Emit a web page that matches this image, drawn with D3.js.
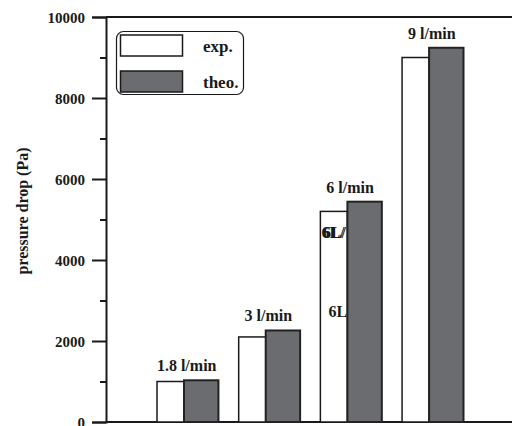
<!DOCTYPE html>
<html>
<head>
<meta charset="utf-8">
<script src="https://cdn.jsdelivr.net/npm/d3@7"></script>
<style>
  html, body { margin: 0; padding: 0; background: #fff; }
  svg { display: block; }
  svg text { font-family: "Liberation Serif", "DejaVu Serif", serif !important; font-weight: bold; fill: #1a1a1a; }
</style>
</head>
<body>
<svg id="chart" width="512" height="426"></svg>
<script>
const categories = ["1.8 l/min", "3 l/min", "6 l/min", "9 l/min"];
const expValues = [1000, 2100, 5200, 9000];
const theoValues = [1030, 2260, 5440, 9240];
const seriesNames = ["exp.", "theo."];
const majorTicks = [0, 2000, 4000, 6000, 8000, 10000];
const minorTicks = [1000, 3000, 5000, 7000, 9000];

const mLeft = 106, mTop = 17, mBottom = 422, mRight = 512;
const svg = d3.select("#chart");
const ink = "#1a1a1a";
const grey = "#6b6c6f";

const y = d3.scaleLinear().domain([0, 10000]).range([mBottom, mTop]);
const x = d3.scaleBand().domain(categories).range([157, 463.5]).paddingInner(0.248).paddingOuter(0);
const bw = x.bandwidth();
const expW = bw * 0.44;

// y axis
const yAxis = d3.axisLeft(y).tickValues(majorTicks).tickSize(14).tickPadding(7).tickFormat(d3.format("d"));
const gy = svg.append("g").attr("transform", `translate(${mLeft},0)`).call(yAxis);
gy.attr("font-family", null).attr("font-size", null);
gy.select(".domain").attr("stroke", ink).attr("stroke-width", 2);
gy.selectAll(".tick line").attr("stroke", ink).attr("stroke-width", 2);
gy.selectAll(".tick text").style("font-size", "15px").attr("fill", ink).attr("dy", "0.34em");
const yMinor = d3.axisLeft(y).tickValues(minorTicks).tickSize(6).tickFormat("");
const gm = svg.append("g").attr("transform", `translate(${mLeft},0)`).call(yMinor);
gm.select(".domain").remove();
gm.selectAll(".tick line").attr("stroke", ink).attr("stroke-width", 2);

// top and bottom frame lines
svg.append("line").attr("x1", mLeft).attr("x2", mRight).attr("y1", y(10000)).attr("y2", y(10000)).attr("stroke", ink).attr("stroke-width", 2);
svg.append("line").attr("x1", mLeft).attr("x2", mRight).attr("y1", y(0)).attr("y2", y(0)).attr("stroke", ink).attr("stroke-width", 2);

// y label
svg.append("text")
  .attr("transform", `translate(28,${(147+275)/2}) rotate(-90)`)
  .attr("text-anchor", "middle")
  .style("font-size", "16px")
  .text("pressure drop (Pa)");

// exp bars
svg.append("g").selectAll("rect").data(categories).join("rect")
  .attr("x", d => x(d))
  .attr("y", (d, i) => y(expValues[i]))
  .attr("width", expW)
  .attr("height", (d, i) => y(0) - y(expValues[i]))
  .attr("fill", "#fff").attr("stroke", ink).attr("stroke-width", 1.5);

// stray text inside the 6 l/min exp bar
const c6 = x(categories[2]);
svg.append("text").attr("x", c6 + 1).attr("y", 238).style("font-size", "16px").text("6L/");
svg.append("text").attr("x", c6 + 2.5).attr("y", 237.5).style("font-size", "16px").text("6L/");
svg.append("text").attr("x", c6 + 8).attr("y", 317).style("font-size", "16px").text("6L");

// theo bars
svg.append("g").selectAll("rect").data(categories).join("rect")
  .attr("x", d => x(d) + expW)
  .attr("y", (d, i) => y(theoValues[i]))
  .attr("width", bw - expW)
  .attr("height", (d, i) => y(0) - y(theoValues[i]))
  .attr("fill", grey).attr("stroke", "#222").attr("stroke-width", 2);

// bar group labels
svg.append("g").selectAll("text").data(categories).join("text")
  .attr("x", d => x(d) + bw / 2 - 1)
  .attr("y", (d, i) => y(theoValues[i]) - 9)
  .attr("text-anchor", "middle")
  .style("font-size", "16px")
  .text(d => d);

// legend
const lg = svg.append("g");
lg.append("rect").attr("x", 116.5).attr("y", 31.5).attr("width", 127).attr("height", 63).attr("rx", 7)
  .attr("fill", "#fff").attr("stroke", ink).attr("stroke-width", 1.2);
const swatchFill = ["#fff", grey];
seriesNames.forEach((s, i) => {
  const yy = 35 + i * 36;
  lg.append("rect").attr("x", 120.5).attr("y", yy).attr("width", 62).attr("height", 21)
    .attr("fill", swatchFill[i]).attr("stroke", ink).attr("stroke-width", 1.5);
  lg.append("text").attr("x", 203).attr("y", yy + 17).style("font-size", "17px").text(s);
});
</script>
</body>
</html>
